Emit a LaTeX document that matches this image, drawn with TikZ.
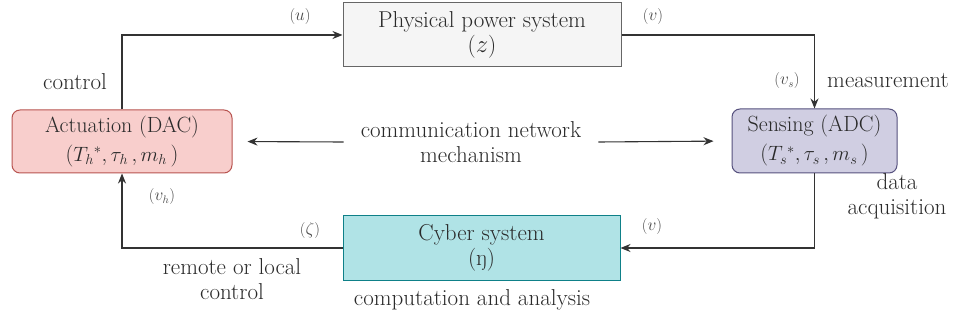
\documentclass[tikz,border=0pt]{standalone}
\usetikzlibrary{arrows.meta}
\definecolor{txt}{HTML}{2A2A2A}
\definecolor{physfill}{HTML}{F5F5F5}
\definecolor{physdraw}{HTML}{666666}
\definecolor{actfill}{HTML}{F8CECC}
\definecolor{actdraw}{HTML}{B85450}
\definecolor{sensfill}{HTML}{D0CEE2}
\definecolor{sensdraw}{HTML}{56517E}
\definecolor{cyberfill}{HTML}{B0E3E6}
\definecolor{cyberdraw}{HTML}{0E8088}
\tikzset{
  box/.style={draw, line width=1pt, align=center, text=txt, inner sep=0pt, font=\fontsize{23}{25}\selectfont},
  rbox/.style={box, rounded corners=8pt, font=\fontsize{22}{29}\selectfont},
  conn/.style={draw=black!80, line width=1.1pt, -{Stealth[length=10pt,width=8pt]}},
  lbl/.style={text=txt!85, font=\fontsize{16}{18}\selectfont, inner sep=0pt},
  note/.style={text=txt, align=center, inner sep=0pt, font=\fontsize{23}{25}\selectfont}
}
\begin{document}
\begin{tikzpicture}[x=1pt,y=-1pt, font=\fontsize{23}{25}\selectfont]
\useasboundingbox[fill=white] (0,0) rectangle (960,320);
\node[box, fill=physfill, draw=physdraw, minimum width=278pt, minimum height=64pt] (phys) at (482,35) {Physical power system\\($z$)};
\node[rbox, fill=actfill, draw=actdraw, minimum width=220pt, minimum height=63pt] (act) at (122,141.5) {Actuation (DAC)\\($T_h{}^{*}, \tau_h\,, m_h\,$)};
\node[rbox, fill=sensfill, draw=sensdraw, minimum width=165pt, minimum height=64pt] (sens) at (814.5,141) {Sensing (ADC)\\($T_s{}^{*}, \tau_s\,, m_s\,$)};
\node[box, fill=cyberfill, draw=cyberdraw, minimum width=277pt, minimum height=64pt] (cyber) at (481.5,248) {Cyber system\\(ŋ)};
\node[note, inner xsep=17pt] (comm) at (471,142) {communication network\\mechanism};

\draw[conn] (act.north) |- (phys.west);
\draw[conn] (phys.east) -| (sens.north);
\draw[conn] (sens.south) |- (cyber.east);
\draw[conn] (cyber.west) -| (act.south);
\draw[conn, shorten >=15pt] (comm.west) -- (act.east);
\draw[conn, shorten >=18pt] (comm.east) -- (sens.west);

\node[lbl] (lu) at (300,17) {($u$)};
\node[lbl] (ly) at (653,17) {($v$)};
\node[lbl] (lvs) at (787,81) {($v_s$)};
\node[lbl] (lv) at (652,227) {($v$)};
\node[lbl] (lz) at (310,231) {($\zeta$)};
\node[lbl] (lvh) at (162,197) {($v_h$)};

\node[note] (lcontrol) at (75,82) {control};
\node[note] (lmeas) at (888,81) {measurement};
\node[note] (ldata) at (897,196) {data\\acquisition};
\node[note] (lremote) at (232,279) {remote or local\\control};
\node[note] (lcomp) at (472,300) {computation and analysis};
\end{tikzpicture}
\end{document}
